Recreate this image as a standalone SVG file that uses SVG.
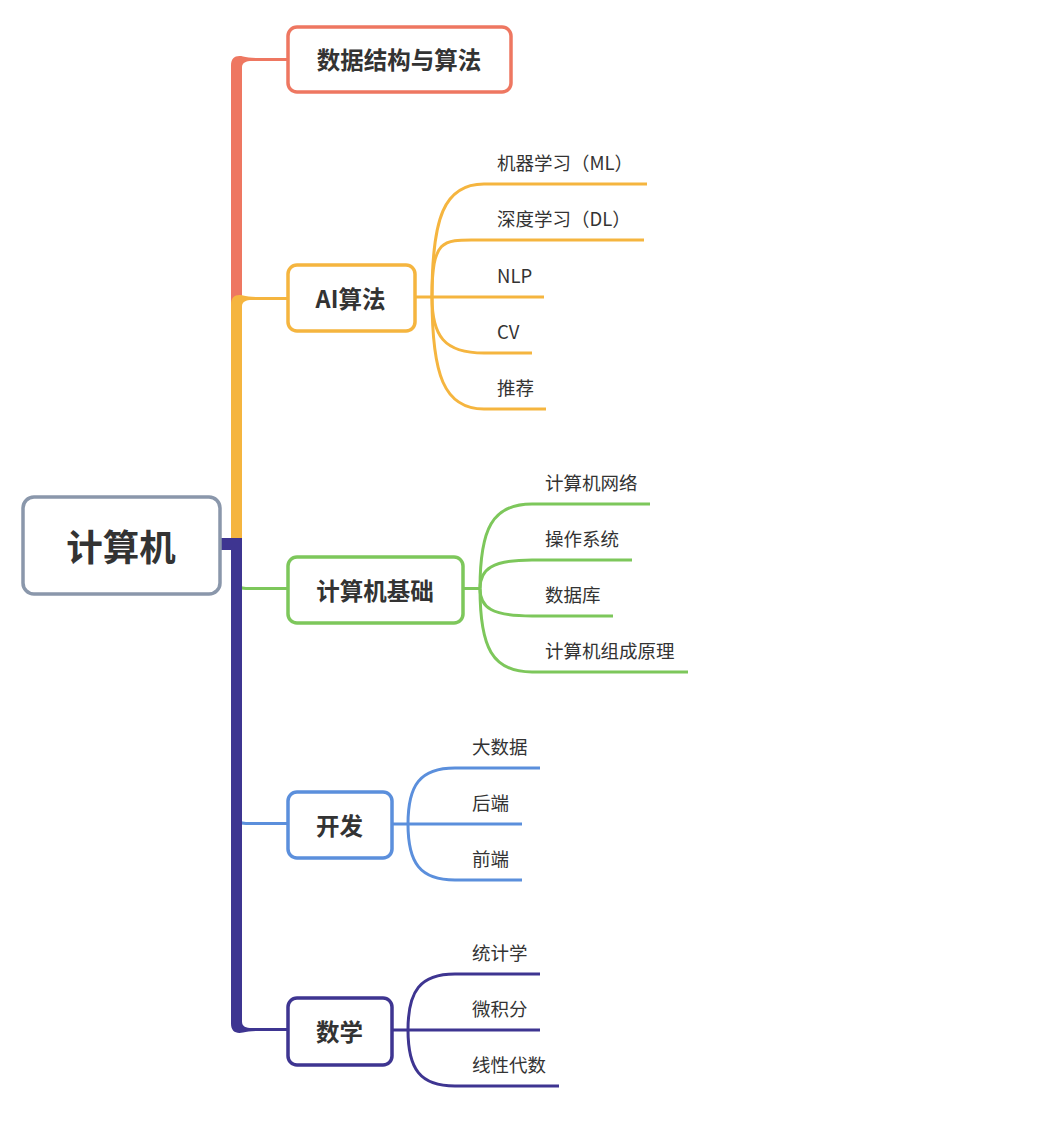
<svg xmlns="http://www.w3.org/2000/svg" width="1054" height="1140" viewBox="0 0 1054 1140">
<style>
.bg{fill:#ffffff}
.box{fill:#ffffff;stroke-width:3.5}
.title{font-family:"Noto Sans CJK SC","Noto Sans",sans-serif;font-weight:bold;font-size:23.5px;fill:#333333;text-anchor:middle;dominant-baseline:central}
.root{font-size:36.5px}
.lbl{font-family:"Noto Sans CJK SC","Noto Sans",sans-serif;font-size:18.5px;fill:#333333;dominant-baseline:central}
.ln{fill:none;stroke-width:3;stroke-linecap:butt}
.red{stroke:#EE7761}.redf{fill:#EE7761}
.org{stroke:#F5B53F}.orgf{fill:#F5B53F}
.grn{stroke:#7DC75B}
.blu{stroke:#5B8FDC}
.pur{stroke:#3E3591}.purf{fill:#3E3591}
.gry{stroke:#8A97AB}
</style>
<rect class="bg" x="0" y="0" width="1054" height="1140"/>
<g id="connectors">
  <path class="redf" d="M231,544 V65.5 C231,57.5 236,55 243,56.5 C247,57.5 252,58 260,58 H289 V61 H252 C246,61 242,62.5 242,67.5 V544 Z"/>
  <path class="orgf" d="M231,544 V304.5 C231,296.5 236,294 243,295.5 C247,296.5 252,297 260,297 H289 V300 H252 C246,300 242,301.5 242,306.5 V544 Z"/>
  <path class="ln grn" d="M236.5,560 V580 Q236.5,588.5 246,588.5 H289"/>
  <path class="ln blu" d="M236.5,800 V815 Q236.5,823.5 246,823.5 H289"/>
  <path class="purf" d="M220,538 H242 V1021.5 C242,1026.5 246,1028 252,1028 H289 V1031 H260 C252,1031 247,1031.5 243,1032.5 C236,1034 231,1031.5 231,1023.5 V550 H220 Z"/>

  <g class="ln org">
    <path d="M415,297 H544"/>
    <path d="M432,297 C432,218 444,184 484,184 H647"/>
    <path d="M432,297 C432,235 444,240 484,240 H644"/>
    <path d="M432,297 C432,336 444,353 484,353 H532"/>
    <path d="M432,297 C432,375 444,409 484,409 H546"/>
  </g>
  <g class="ln grn">
    <path d="M463,588.5 H480"/>
    <path d="M480,588.5 C480,529 492,504 532,504 H650"/>
    <path d="M480,588.5 C480,569 492,560 532,560 H632"/>
    <path d="M480,588.5 C480,608 492,616 532,616 H613"/>
    <path d="M480,588.5 C480,647 492,672 532,672 H688"/>
  </g>
  <g class="ln blu">
    <path d="M392,824 H522"/>
    <path d="M408,824 C408,785 420,768 455,768 H540"/>
    <path d="M408,824 C408,863 420,880 455,880 H522"/>
  </g>
  <g class="ln pur">
    <path d="M392,1030 H540"/>
    <path d="M408,1030 C408,991 420,974 455,974 H540"/>
    <path d="M408,1030 C408,1069 420,1086 455,1086 H559"/>
  </g>
</g>

<g id="node-root">
  <rect class="box gry" x="23" y="497" width="197" height="97" rx="11"/>
  <text class="title root" x="121" y="545">计算机</text>
</g>
<g id="node-ds">
  <rect class="box red" x="288" y="27" width="223" height="65" rx="9"/>
  <text class="title" x="399" y="59">数据结构与算法</text>
</g>
<g id="node-ai">
  <rect class="box org" x="288" y="265" width="127" height="66" rx="9"/>
  <text class="title" x="350.5" y="297.5">AI算法</text>
</g>
<g id="node-base">
  <rect class="box grn" x="288" y="557" width="175" height="66" rx="9"/>
  <text class="title" x="375" y="589.5">计算机基础</text>
</g>
<g id="node-dev">
  <rect class="box blu" x="288" y="792" width="104" height="66" rx="9"/>
  <text class="title" x="339.5" y="824.5">开发</text>
</g>
<g id="node-math">
  <rect class="box pur" x="288" y="998" width="104" height="67" rx="9"/>
  <text class="title" x="339.5" y="1031">数学</text>
</g>

<g id="node-ml"><text class="lbl" x="497" y="161.5">机器学习（ML）</text></g>
<g id="node-dl"><text class="lbl" x="497" y="217.5">深度学习（DL）</text></g>
<g id="node-nlp"><text class="lbl" x="497" y="274.5">NLP</text></g>
<g id="node-cv"><text class="lbl" x="497" y="330.5">CV</text></g>
<g id="node-rec"><text class="lbl" x="497" y="386.5">推荐</text></g>

<g id="node-net"><text class="lbl" x="545" y="481.5">计算机网络</text></g>
<g id="node-os"><text class="lbl" x="545" y="537.5">操作系统</text></g>
<g id="node-db"><text class="lbl" x="545" y="593.5">数据库</text></g>
<g id="node-arch"><text class="lbl" x="545" y="649.5">计算机组成原理</text></g>

<g id="node-bigdata"><text class="lbl" x="472" y="745.5">大数据</text></g>
<g id="node-backend"><text class="lbl" x="472" y="801.5">后端</text></g>
<g id="node-frontend"><text class="lbl" x="472" y="857.5">前端</text></g>

<g id="node-stat"><text class="lbl" x="472" y="952">统计学</text></g>
<g id="node-calc"><text class="lbl" x="472" y="1008">微积分</text></g>
<g id="node-linalg"><text class="lbl" x="472" y="1064">线性代数</text></g>
</svg>
